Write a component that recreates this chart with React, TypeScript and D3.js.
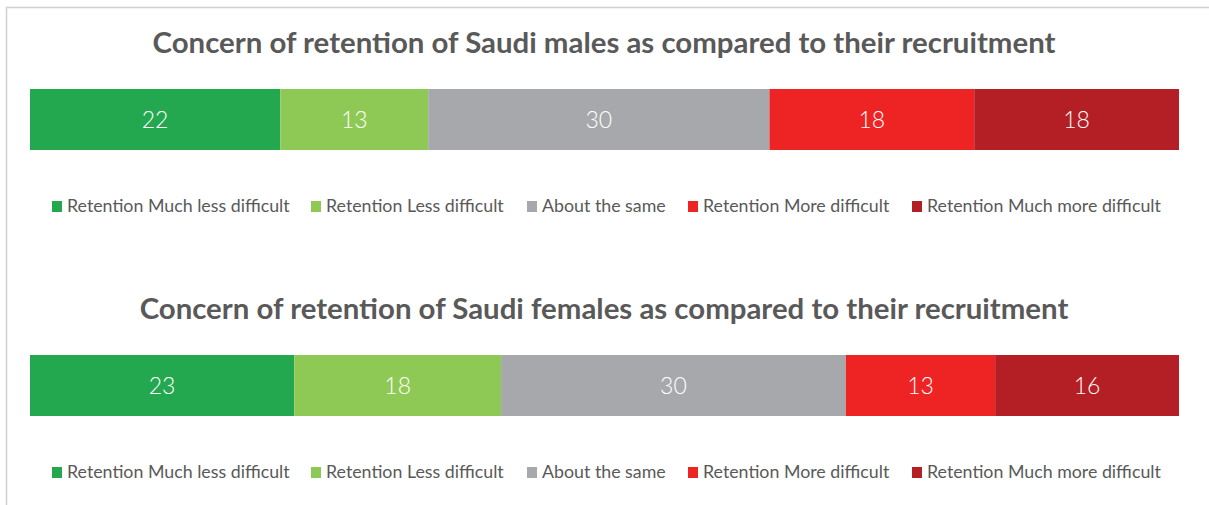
import React from "react";
import * as d3 from "d3";

const categories = [
  "Retention Much less difficult",
  "Retention Less difficult",
  "About the same",
  "Retention More difficult",
  "Retention Much more difficult",
];
const colors = ["#23A84F", "#8FC955", "#A6A8AB", "#EE2324", "#B41F25"];
const maleValues = [22, 13, 30, 18, 18];
const femaleValues = [23, 18, 30, 13, 16];
const titles = [
  "Concern of retention of Saudi males as compared to their recruitment",
  "Concern of retention of Saudi females as compared to their recruitment",
];

const W = 1209;
const H = 505;
const FONT = "Lato, 'Open Sans', sans-serif";
const legendX = [52, 311, 527, 688, 912];

function Panel({ values, title, top }: { values: number[]; title: string; top: number }) {
  const total = d3.sum(values);
  const x = d3.scaleLinear().domain([0, total]).range([30, 1179]);
  const stack = d3.cumsum([0, ...values]);
  const barY = top + 82;
  const barH = 61;
  return (
    <g>
      <text x={604} y={top + 46} textAnchor="middle" fontFamily={FONT} fontWeight={700} fontSize={29.4} fill="#595959">
        {title}
      </text>
      {values.map((v, i) => {
        const x0 = x(stack[i]);
        const x1 = x(stack[i + 1]);
        return (
          <g key={i}>
            <rect x={x0} y={barY} width={x1 - x0} height={barH} fill={colors[i]} />
            <text x={(x0 + x1) / 2} y={barY + barH / 2 + 8} textAnchor="middle" fontFamily={FONT} fontWeight={300} fontSize={23} fill="#fff">
              {v}
            </text>
          </g>
        );
      })}
      {categories.map((c, i) => (
        <g key={c} transform={`translate(${legendX[i]},${top + 205})`}>
          <rect x={0} y={-11} width={10} height={11} fill={colors[i]} />
          <text x={15} y={0} fontFamily={FONT} fontSize={17.8} fill="#595959">
            {c}
          </text>
        </g>
      ))}
    </g>
  );
}

export default function App() {
  return (
    <svg width={W} height={H} style={{ position: "absolute", left: 0, top: 0, background: "#fff" }}>
      <rect x={6.5} y={7.5} width={W + 10} height={H + 10} fill="#fff" stroke="#D0D0D0" strokeWidth={1.5} />
      <Panel values={maleValues} title={titles[0]} top={7} />
      <Panel values={femaleValues} title={titles[1]} top={273} />
    </svg>
  );
}
